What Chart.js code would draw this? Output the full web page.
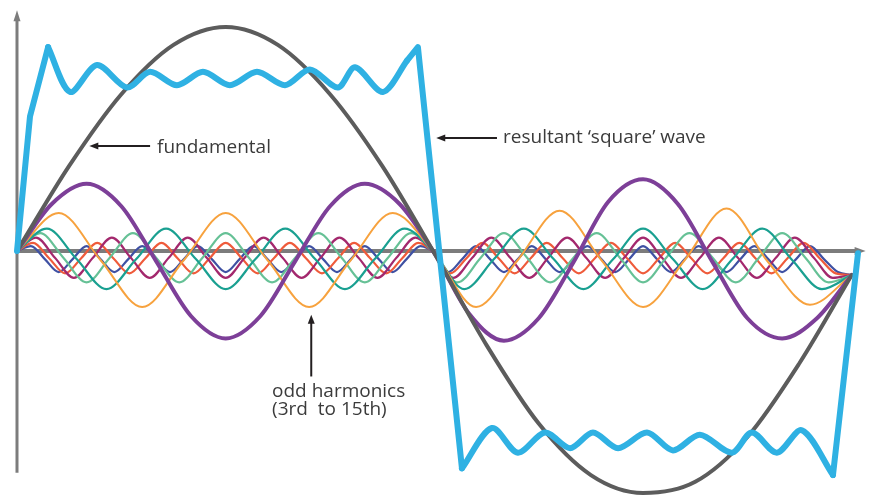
<!DOCTYPE html>
<html><head><meta charset="utf-8">
<script src="https://cdn.jsdelivr.net/npm/chart.js@4.4.1/dist/chart.umd.min.js"></script>
<style>html,body{margin:0;padding:0;background:#fff;}#wrap{width:874px;height:497px;position:relative;}</style>
</head><body><div id="wrap"><canvas id="c"></canvas></div>
<script>
// x in degrees of the fundamental (0..360), y in units of the fundamental's peak
const fundX = [0, 22.5, 45, 67.5, 90, 112.5, 135, 157.5, 180, 202.5, 225, 247.5, 270, 292.5, 315, 337.5, 360];
const fundY = [0, 0.38, 0.70, 0.92, 1.0, 0.92, 0.70, 0.38, -0.01, -0.42, -0.77, -1.0, -1.08, -1.03, -0.83, -0.50, -0.107];

const squareX = [0, 5.6, 13.4, 22.9, 34.5, 47.4, 57.4, 69.0, 80.2, 91.8, 103.5, 115.6, 126.3, 138.4, 145.8, 157.8, 168.2, 172.9, 191.9, 204.8, 216.0, 227.7, 238.5, 248.4, 259.2, 271.7, 282.9, 294.5, 308.3, 316.9, 327.7, 338.5, 351.9, 362.7];
const squareY = [0, 0.60, 0.91, 0.71, 0.83, 0.73, 0.80, 0.74, 0.80, 0.74, 0.80, 0.74, 0.81, 0.73, 0.82, 0.71, 0.85, 0.91, -0.97, -0.79, -0.90, -0.81, -0.88, -0.81, -0.88, -0.81, -0.89, -0.82, -0.90, -0.81, -0.90, -0.80, -1.00, -0.01];
// pieces of the square wave: [first index, last index, smoothed?]
const squarePieces = [[0, 2, false], [2, 16, true], [16, 18, false], [18, 32, true], [32, 33, false]];

// harmonic samples, one value per quarter period of each harmonic (3rd: every eighth period)
const h3Step = 15;
const h3 = [0, 0.21, 0.30, 0.20, -0.045, -0.29, -0.39, -0.29, -0.045, 0.20, 0.30, 0.21, -0.01, -0.28, -0.40, -0.30, -0.05, 0.22, 0.32, 0.21, -0.05, -0.30, -0.39, -0.30, -0.107];
const h5Step = 18;
const h5 = [0, 0.17, -0.04, -0.25, -0.04, 0.17, -0.04, -0.25, -0.04, 0.17, -0.01, -0.25, -0.04, 0.18, -0.04, -0.25, -0.04, 0.19, -0.05, -0.24, -0.107];
const h7Step = 90 / 7;
const h7 = [0, 0.10, -0.036, -0.17, -0.036, 0.10, -0.036, -0.17, -0.036, 0.10, -0.036, -0.17, -0.036, 0.10, -0.01, -0.17, -0.036, 0.10, -0.036, -0.17, -0.036, 0.10, -0.036, -0.17, -0.036, 0.10, -0.04, -0.17, -0.107];
const h9Step = 10;
const h9 = [0, .08, -.03, -.14, -.03, .08, -.03, -.14, -.03, .08, -.03, -.14, -.03, .08, -.03, -.14, -.03, .08, -.01, -.14, -.03, .08, -.03, -.14, -.03, .08, -.03, -.14, -.03, .08, -.03, -.14, -.03, .08, -.03, -.14, -.107];
const h11Step = 90 / 11;
const h11 = [0, .06, -.03, -.12, -.03, .06, -.03, -.12, -.03, .06, -.03, -.12, -.03, .06, -.03, -.12, -.03, .06, -.03, -.12, -.03, .06, -.01, -.12, -.03, .06, -.03, -.12, -.03, .06, -.03, -.12, -.03, .06, -.03, -.12, -.03, .06, -.03, -.12, -.03, .06, -.03, -.12, -.107];
const h13Step = 90 / 13;
const h13 = [0, .036, -.032, -.10, -.032, .036, -.032, -.10, -.032, .036, -.032, -.10, -.032, .036, -.032, -.10, -.032, .036, -.032, -.10, -.032, .036, -.032, -.10, -.032, .036, -.01, -.10, -.032, .036, -.032, -.10, -.032, .036, -.032, -.10, -.032, .036, -.032, -.10, -.032, .036, -.032, -.10, -.032, .036, -.032, -.10, -.032, .036, -.032, -.10, -.107];
const h15Step = 6;
const h15 = [0, .022, -.036, -.094, -.036, .022, -.036, -.094, -.036, .022, -.036, -.094, -.036, .022, -.036, -.094, -.036, .022, -.036, -.094, -.036, .022, -.036, -.094, -.036, .022, -.036, -.094, -.036, .022, -.01, -.094, -.036, .022, -.036, -.094, -.036, .022, -.036, -.094, -.036, .022, -.036, -.094, -.036, .022, -.036, -.094, -.036, .022, -.036, -.094, -.036, .022, -.036, -.094, -.036, .022, -.036, -.094, -.107];

const labels = {
  fundamental: 'fundamental',
  square: 'resultant \u2018square\u2019 wave',
  harm1: 'odd harmonics',
  harm2: '(3rd  to 15th)'
};

function pts(xs, ys) { return ys.map((v, i) => ({ x: xs[i], y: v })); }
function stepPts(step, ys) { return ys.map((v, i) => ({ x: i * step, y: v })); }

const harmonicStyle = (color, w) => ({
  borderColor: color, borderWidth: w, pointRadius: 0, fill: false,
  cubicInterpolationMode: 'monotone', borderCapStyle: 'round', borderJoinStyle: 'round'
});

const squareAll = pts(squareX, squareY);
const squareSets = squarePieces.map(([a, b, smooth]) => ({
  label: 'square', data: squareAll.slice(a, b + 1), borderColor: '#2fb1e3', borderWidth: 6,
  pointRadius: 0, tension: smooth ? 0.3 : 0, borderJoinStyle: 'round', borderCapStyle: 'round', fill: false
}));

const datasets = squareSets.concat([
  Object.assign({ label: 'fundamental', data: pts(fundX, fundY) }, harmonicStyle('#5c5c5c', 4)),
  Object.assign({ label: '3rd', data: stepPts(h3Step, h3) }, harmonicStyle('#7d3f98', 4)),
  Object.assign({ label: '5th', data: stepPts(h5Step, h5) }, harmonicStyle('#f7a23e', 2)),
  Object.assign({ label: '7th', data: stepPts(h7Step, h7) }, harmonicStyle('#1aa091', 2.2)),
  Object.assign({ label: '9th', data: stepPts(h9Step, h9) }, harmonicStyle('#66c196', 2.2)),
  Object.assign({ label: '11th', data: stepPts(h11Step, h11) }, harmonicStyle('#a3286d', 2.2)),
  Object.assign({ label: '13th', data: stepPts(h13Step, h13) }, harmonicStyle('#ef5b3b', 2.2)),
  Object.assign({ label: '15th', data: stepPts(h15Step, h15) }, harmonicStyle('#3f51a3', 2.2))
]);

function arrow(ctx, x1, y1, x2, y2) {
  const ang = Math.atan2(y2 - y1, x2 - x1);
  const hl = 9, hw = 3.5;
  ctx.beginPath();
  ctx.moveTo(x1, y1);
  ctx.lineTo(x2 - Math.cos(ang) * hl * 0.8, y2 - Math.sin(ang) * hl * 0.8);
  ctx.stroke();
  ctx.beginPath();
  ctx.moveTo(x2, y2);
  ctx.lineTo(x2 - Math.cos(ang) * hl - Math.sin(ang) * hw, y2 - Math.sin(ang) * hl + Math.cos(ang) * hw);
  ctx.lineTo(x2 - Math.cos(ang) * hl + Math.sin(ang) * hw, y2 - Math.sin(ang) * hl - Math.cos(ang) * hw);
  ctx.closePath();
  ctx.fill();
}

const decor = {
  id: 'decor',
  beforeDatasetsDraw(chart) {
    const { ctx, scales: { x, y } } = chart;
    const x0 = x.getPixelForValue(0), y0 = y.getPixelForValue(0);
    const yTop = y.getPixelForValue(1.075), yBot = y.getPixelForValue(-0.99);
    const xR = x.getPixelForValue(366);
    ctx.save();
    ctx.strokeStyle = '#7c7c7c'; ctx.fillStyle = '#7c7c7c';
    ctx.lineWidth = 3;
    ctx.beginPath(); ctx.moveTo(x0, yBot); ctx.lineTo(x0, yTop + 8); ctx.stroke();
    ctx.beginPath(); ctx.moveTo(x0, yTop); ctx.lineTo(x0 - 3.5, yTop + 11); ctx.lineTo(x0 + 3.5, yTop + 11); ctx.closePath(); ctx.fill();
    ctx.lineWidth = 4;
    ctx.beginPath(); ctx.moveTo(x0, y0); ctx.lineTo(xR - 8, y0); ctx.stroke();
    ctx.beginPath(); ctx.moveTo(xR, y0); ctx.lineTo(xR - 11, y0 - 4); ctx.lineTo(xR - 11, y0 + 4); ctx.closePath(); ctx.fill();
    ctx.restore();
  },
  afterDatasetsDraw(chart) {
    const { ctx, scales: { x, y } } = chart;
    const X = v => x.getPixelForValue(v), Y = v => y.getPixelForValue(v);
    ctx.save();
    ctx.strokeStyle = '#231f20'; ctx.fillStyle = '#231f20'; ctx.lineWidth = 2;
    arrow(ctx, X(57.4), Y(0.469), X(31.2), Y(0.469));
    arrow(ctx, X(207), Y(0.504), X(180.8), Y(0.504));
    arrow(ctx, X(126.9), Y(-0.56), X(126.9), Y(-0.285));
    ctx.fillStyle = '#3b3b3b';
    ctx.font = '19px "Open Sans", "Noto Sans", sans-serif';
    ctx.textBaseline = 'alphabetic';
    ctx.fillText(labels.fundamental, X(60.4), Y(0.4375));
    ctx.fillText(labels.square, X(209.6), Y(0.482));
    ctx.fillText(labels.harm1, X(110), Y(-0.652));
    ctx.fillText(labels.harm2, X(110), Y(-0.73));
    ctx.restore();
  }
};

new Chart(document.getElementById('c'), {
  type: 'line',
  data: { datasets },
  plugins: [decor],
  options: {
    responsive: true, maintainAspectRatio: false, animation: false,
    layout: { padding: 0 },
    plugins: { legend: { display: false }, tooltip: { enabled: false } },
    scales: {
      x: { type: 'linear', min: -7.33, max: 369.6, display: false },
      y: { type: 'linear', min: -1.098, max: 1.1205, display: false }
    }
  }
});
</script></body></html>
